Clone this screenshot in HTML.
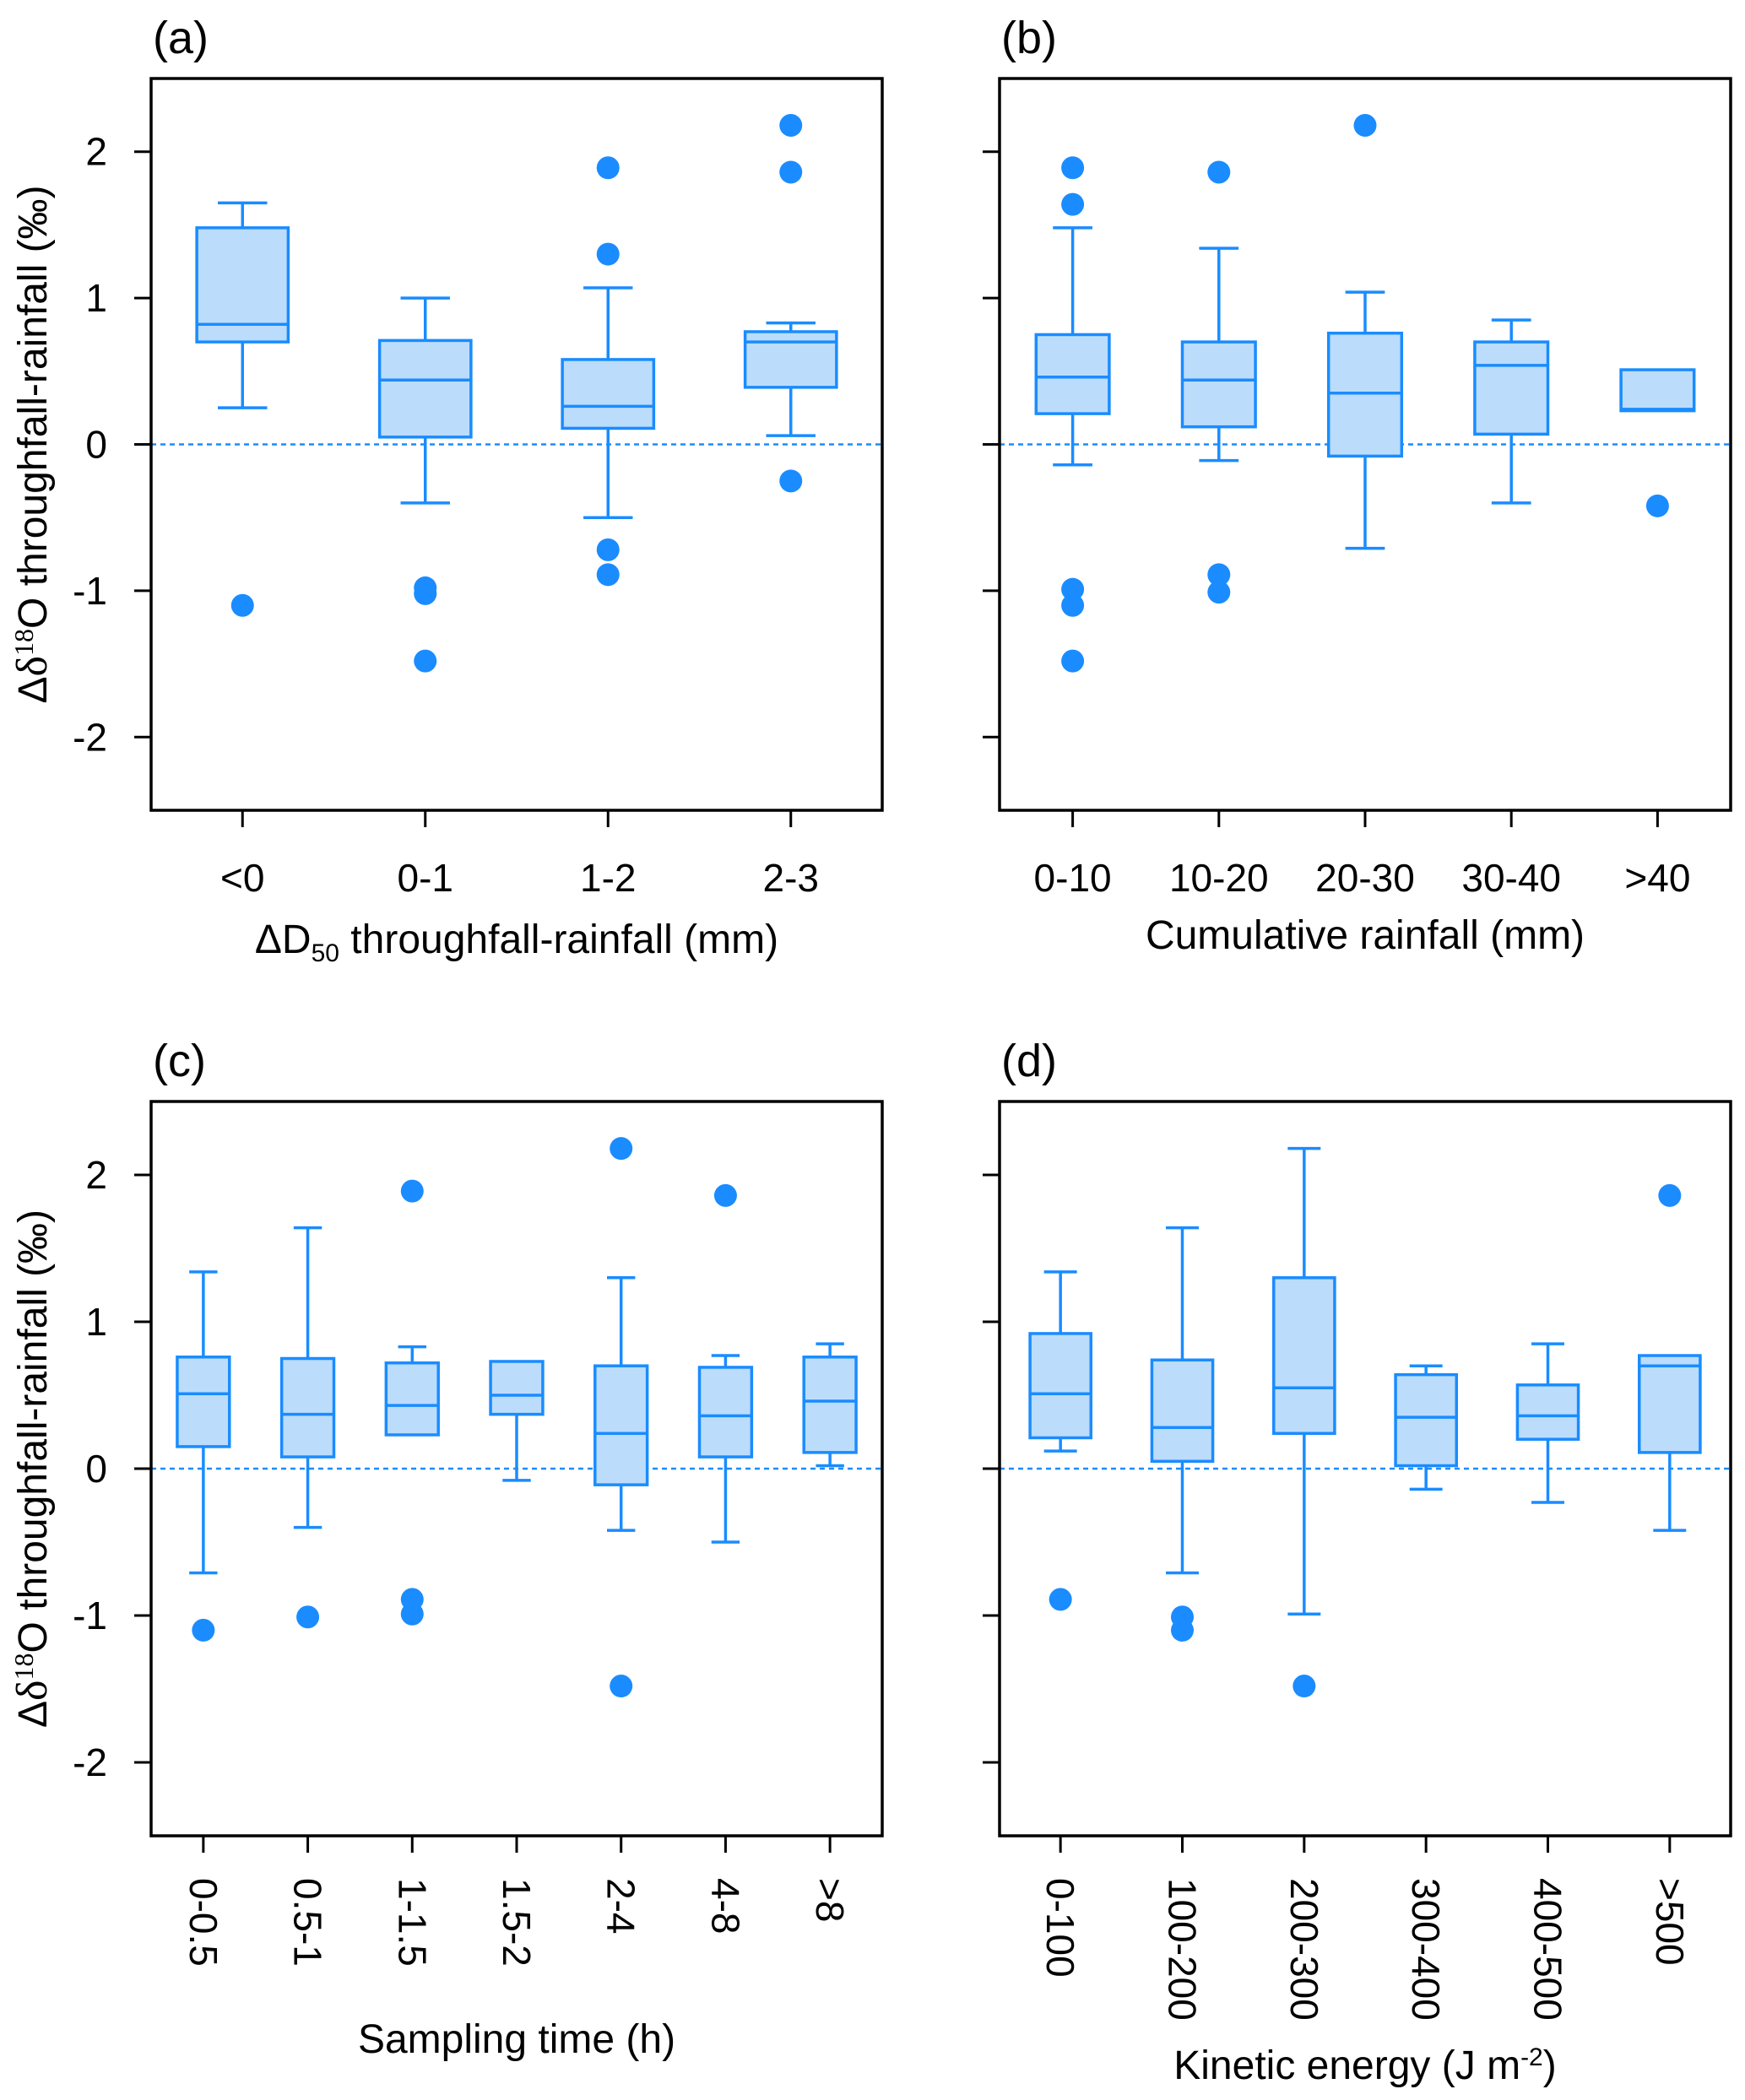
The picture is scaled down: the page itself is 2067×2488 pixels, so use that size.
<!DOCTYPE html>
<html><head><meta charset="utf-8"><style>
body{margin:0;background:#fff}
svg{display:block;font-family:"Liberation Sans",sans-serif}
</style></head><body>
<svg id="fig" width="2067" height="2488" viewBox="0 0 2067 2488" xmlns="http://www.w3.org/2000/svg"></svg>
<script>
// ---- data ----
const catsA=["<0","0-1","1-2","2-3"];
const statsA=[[0.25,0.70,0.82,1.48,1.65],[-0.40,0.05,0.44,0.71,1.00],[-0.50,0.11,0.26,0.58,1.07],[0.06,0.39,0.70,0.77,0.83]];
const outA=[[-1.1],[-0.98,-1.02,-1.48],[1.89,1.30,-0.72,-0.89],[2.18,1.86,-0.25]];
const catsB=["0-10","10-20","20-30","30-40",">40"];
const statsB=[[-0.14,0.21,0.46,0.75,1.48],[-0.11,0.12,0.44,0.70,1.34],[-0.71,-0.08,0.35,0.76,1.04],[-0.40,0.07,0.54,0.70,0.85],[0.23,0.23,0.24,0.51,0.51]];
const outB=[[1.89,1.64,-0.99,-1.1,-1.48],[1.86,-0.89,-1.01],[2.18],[],[-0.42]];
const catsC=["0-0.5","0.5-1","1-1.5","1.5-2","2-4","4-8",">8"];
const statsC=[[-0.71,0.15,0.51,0.76,1.34],[-0.40,0.08,0.37,0.75,1.64],[0.23,0.23,0.43,0.72,0.83],[-0.08,0.37,0.50,0.73,0.73],[-0.42,-0.11,0.24,0.70,1.30],[-0.50,0.08,0.36,0.69,0.77],[0.02,0.11,0.46,0.76,0.85]];
const outC=[[-1.1],[-1.01],[1.89,-0.89,-0.99],[],[2.18,-1.48],[1.86],[]];
const catsD=["0-100","100-200","200-300","300-400","400-500",">500"];
const statsD=[[0.12,0.21,0.51,0.92,1.34],[-0.71,0.05,0.28,0.74,1.64],[-0.99,0.24,0.55,1.30,2.18],[-0.14,0.02,0.35,0.64,0.70],[-0.23,0.20,0.36,0.57,0.85],[-0.42,0.11,0.70,0.77,0.77]];
const outD=[[-0.89],[-1.01,-1.1],[-1.48],[],[],[1.86]];
const yTicks=[-2,-1,0,1,2];

const NS="http://www.w3.org/2000/svg";
const svg=document.getElementById('fig');
const BLUE="#1a8cff",FILL="#bcdcfb";
function el(tag,attrs,parent,text){const e=document.createElementNS(NS,tag);for(const k in attrs)e.setAttribute(k,attrs[k]);if(text!==undefined)e.textContent=text;(parent||svg).appendChild(e);return e;}

function panel(p){
  const g=el('g',{});
  
  
  const y=v=>p.t+(2.5-v)/5*(p.b-p.t);
  const n=p.cats.length,step=(p.r-p.l)/n;
  const x=i=>p.l+step*(i+0.5);
  const SW=3.5;
  const z=el('line',{x1:p.l,x2:p.r,y1:y(0),y2:y(0),stroke:BLUE,'stroke-width':2.5,'stroke-dasharray':'6,5'},g);
  
  const bw=step*0.5,cw=step*0.27;
  p.stats.forEach((s,i)=>{
    const bg=el('g',{},g);
    
    
    const cx=x(i);
    if(s[0]<s[1]){el('line',{x1:cx,x2:cx,y1:y(s[0]),y2:y(s[1]),stroke:BLUE,'stroke-width':SW},bg);
      el('line',{x1:cx-cw/2,x2:cx+cw/2,y1:y(s[0]),y2:y(s[0]),stroke:BLUE,'stroke-width':SW},bg);}
    if(s[4]>s[3]){el('line',{x1:cx,x2:cx,y1:y(s[3]),y2:y(s[4]),stroke:BLUE,'stroke-width':SW},bg);
      el('line',{x1:cx-cw/2,x2:cx+cw/2,y1:y(s[4]),y2:y(s[4]),stroke:BLUE,'stroke-width':SW},bg);}
    el('rect',{x:cx-bw/2,y:y(s[3]),width:bw,height:y(s[1])-y(s[3]),fill:FILL,stroke:BLUE,'stroke-width':SW},bg);
    el('line',{x1:cx-bw/2,x2:cx+bw/2,y1:y(s[2]),y2:y(s[2]),stroke:BLUE,'stroke-width':SW},bg);
    p.out[i].forEach(v=>{const c=el('circle',{cx:cx,cy:y(v),r:13.5,fill:BLUE},bg);
      });
    el('line',{x1:cx,x2:cx,y1:p.b,y2:p.b+20,stroke:'#000','stroke-width':3},g);
    let t;
    if(p.rot){t=el('text',{x:0,y:0,transform:`translate(${cx-16},${p.b+50}) rotate(90)`,'font-size':46,'text-anchor':'start'},g,p.cats[i]);}
    else t=el('text',{x:cx,y:p.b+96,'font-size':46,'text-anchor':'middle'},g,p.cats[i]);
    
  });
  yTicks.forEach(v=>{
    el('line',{x1:p.l-20,x2:p.l,y1:y(v),y2:y(v),stroke:'#000','stroke-width':3},g);
    if(p.ylab){const t=el('text',{x:p.l-52,y:y(v)+16,'font-size':46,'text-anchor':'end'},g,String(v));
      }
  });
  const fr=el('rect',{x:p.l,y:p.t,width:p.r-p.l,height:p.b-p.t,fill:'none',stroke:'#000','stroke-width':3.5},g);
  
  const pl=el('text',{x:p.l+2,y:p.t-30,'font-size':54},g,'('+p.id+')');
  
  const xt=el('text',{x:(p.l+p.r)/2,y:p.xtY,'font-size':48,'text-anchor':'middle'},g);
  
  xt.innerHTML=p.xt;
  if(p.ylab){
    const yt=el('text',{transform:`translate(55,${(p.t+p.b)/2}) rotate(-90)`,'font-size':48,'text-anchor':'middle'},g);
    
    yt.innerHTML='Δ<tspan font-family="Liberation Serif" font-size="52">δ</tspan><tspan font-family="Liberation Serif" font-size="32" dy="-16">18</tspan><tspan dy="16">O throughfall-rainfall (‰)</tspan>';
  }
}
panel({id:'a',l:179,r:1045,t:93,b:960,cats:catsA,stats:statsA,out:outA,ylab:true,xtY:1129,
  xt:'ΔD<tspan font-size="30" dy="10">50</tspan><tspan dy="-10"> throughfall-rainfall (mm)</tspan>'});
panel({id:'b',l:1184,r:2050,t:93,b:960,cats:catsB,stats:statsB,out:outB,ylab:false,xtY:1124,xt:'Cumulative rainfall (mm)'});
panel({id:'c',l:179,r:1045,t:1305,b:2175,cats:catsC,stats:statsC,out:outC,ylab:true,rot:true,xtY:2432,xt:'Sampling time (h)'});
panel({id:'d',l:1184,r:2050,t:1305,b:2175,cats:catsD,stats:statsD,out:outD,ylab:false,rot:true,xtY:2463,
  xt:'Kinetic energy (J m<tspan font-size="30" dy="-16">-2</tspan><tspan dy="16">)</tspan>'});
</script>
</body></html>
